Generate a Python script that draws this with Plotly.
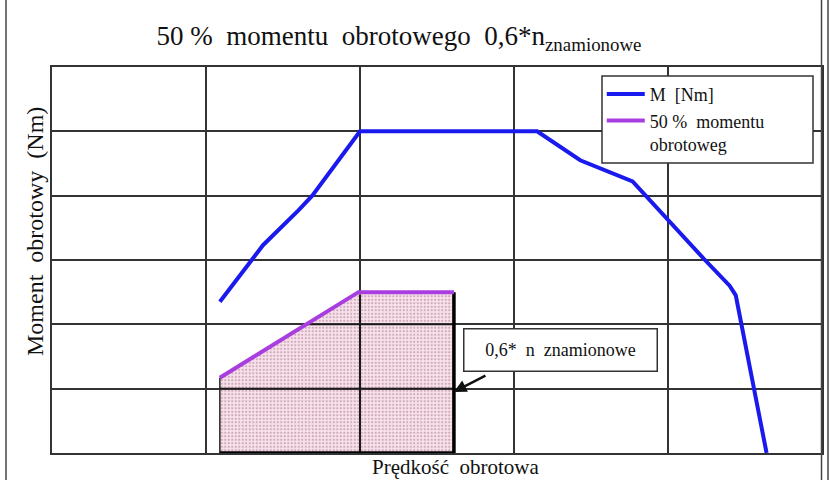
import numpy as np
import plotly.graph_objects as go

# Data (axes have no numeric ticks)
speed_M = [1.09, 1.30, 1.37, 1.60, 1.69, 2.0, 3.15, 3.43, 3.77, 4.24, 4.40, 4.44, 4.64]
torque_M = [2.35, 3.0, 3.23, 3.77, 4.0, 5.0, 5.0, 4.55, 4.22, 3.0, 2.6, 2.45, 0.0]

speed_half = [1.09, 1.99, 2.61]
torque_half = [1.17, 2.5, 2.5]

n_limit = 2.61  # 0,6 * n znamionowe

FONT = "Liberation Serif"
GRID = "#333"

fig = go.Figure()

# pattern-filled area under 50% curve
fig.add_trace(go.Scatter(
    x=speed_half, y=torque_half, mode="lines",
    line=dict(color="rgba(0,0,0,0)", width=0),
    fill="tozeroy", fillcolor="rgba(0,0,0,0)",
    fillpattern=dict(shape=".", fgcolor="rgba(140,70,100,0.75)",
                     bgcolor="rgba(240,200,218,0.5)",
                     size=3.5, solidity=0.35),
    showlegend=False, hoverinfo="skip"))

# gridlines visible through the patterned area
grid_x, grid_y = [], []
for gy in [1, 2]:
    x_start = max(speed_half[0], float(np.interp(gy, torque_half[:2], speed_half[:2])))
    grid_x += [x_start, n_limit, None]
    grid_y += [gy, gy, None]
for gx in [2]:
    top = float(np.interp(gx, speed_half, torque_half))
    grid_x += [gx, gx, None]
    grid_y += [0, top - 0.04, None]
fig.add_trace(go.Scatter(
    x=grid_x, y=grid_y, mode="lines", line=dict(color="#1a1a1a", width=2),
    showlegend=False, hoverinfo="skip", connectgaps=False))

# black border of the filled area
fig.add_trace(go.Scatter(
    x=[speed_half[0], speed_half[0]], y=[torque_half[0], 0],
    mode="lines", line=dict(color="#222", width=1.5),
    showlegend=False, hoverinfo="skip"))
fig.add_trace(go.Scatter(
    x=[speed_half[0], n_limit, n_limit], y=[0, 0, torque_half[-1]],
    mode="lines", line=dict(color="#000", width=3.5),
    showlegend=False, hoverinfo="skip"))

fig.add_trace(go.Scatter(
    x=speed_M, y=torque_M, mode="lines", name="M  [Nm]",
    line=dict(color="#1a1aee", width=4)))
fig.add_trace(go.Scatter(
    x=speed_half, y=torque_half, mode="lines", name="50 %  momentu<br>obrotoweg",
    line=dict(color="#a83ee0", width=4)))

fig.update_layout(
    width=840, height=480,
    margin=dict(l=52, r=18, t=67, b=27),
    paper_bgcolor="white", plot_bgcolor="white",
    font=dict(family=FONT, color="#111"),
    title=dict(text="50 %  momentu  obrotowego  0,6*n<sub>znamionowe</sub>",
               x=0.475, xanchor="center", y=0.925, yanchor="middle",
               font=dict(family=FONT, size=27, color="#111")),
    xaxis=dict(range=[0, 5], dtick=1, showticklabels=False, ticks="",
               showgrid=True, gridcolor=GRID, gridwidth=1.5,
               showline=True, linecolor=GRID, linewidth=1.5, mirror=True,
               zeroline=False, fixedrange=True),
    yaxis=dict(range=[0, 6], dtick=1, showticklabels=False, ticks="",
               showgrid=True, gridcolor=GRID, gridwidth=1.5,
               showline=True, linecolor=GRID, linewidth=1.5, mirror=True,
               zeroline=False, fixedrange=True),
    legend=dict(x=0.714, y=0.977, xanchor="left", yanchor="top",
                bgcolor="rgba(0,0,0,0)", borderwidth=0,
                font=dict(family=FONT, size=18, color="#111"),
                valign="top", itemwidth=38, tracegroupgap=4),
    showlegend=True,
)

# legend frame
fig.add_shape(type="rect", xref="paper", yref="paper", layer="above",
              x0=(602 - 52) / 770, x1=(813 - 52) / 770,
              y0=(453 - 163) / 386, y1=(453 - 76) / 386,
              line=dict(color="#333", width=1.5), fillcolor="white")

# axis titles as annotations
fig.add_annotation(text="Moment  obrotowy  (Nm)", xref="paper", yref="paper",
                   x=(35 - 52) / 770, y=(453 - 232) / 386, textangle=-90,
                   showarrow=False, font=dict(family=FONT, size=24, color="#111"),
                   xanchor="center", yanchor="middle")
fig.add_annotation(text="Prędkość  obrotowa", xref="paper", yref="paper",
                   x=(456 - 52) / 770, y=(453 - 467) / 386,
                   showarrow=False, font=dict(family=FONT, size=21, color="#111"),
                   xanchor="center", yanchor="middle")

# boxed label
fig.add_annotation(text="0,6*  n  znamionowe", xref="paper", yref="paper",
                   x=(560 - 52) / 770, y=(453 - 350) / 386,
                   showarrow=False, font=dict(family=FONT, size=18, color="#111"),
                   xanchor="center", yanchor="middle",
                   width=188, height=37, borderpad=2,
                   bordercolor="#333", borderwidth=1.5, bgcolor="white")
# arrow to the limit line
fig.add_annotation(x=n_limit, y=0.95, xref="x", yref="y", text="",
                   showarrow=True, arrowhead=2, arrowsize=1, arrowwidth=2.5,
                   arrowcolor="#111", ax=33, ay=-17)

# outer frame lines
for xp in [(6 - 52) / 770, (828 - 52) / 770, (821.5 - 52) / 770]:
    fig.add_shape(type="line", xref="paper", yref="paper",
                  x0=xp, x1=xp, y0=(453 - 480) / 386, y1=(453 - 0) / 386,
                  line=dict(color="#444", width=1.5))

fig.write_html("out.html")
